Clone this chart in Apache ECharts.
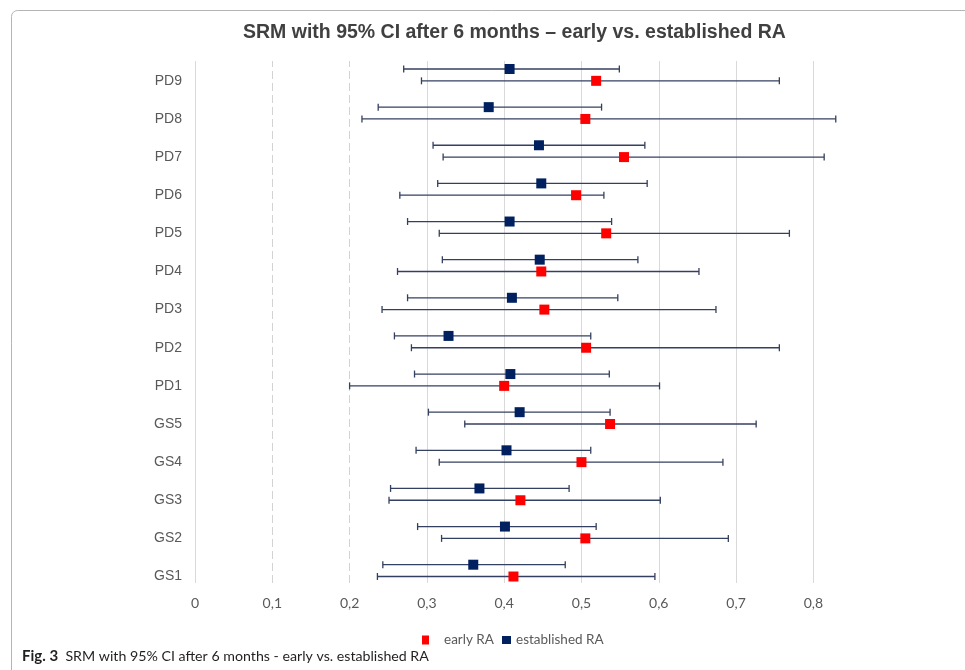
<!DOCTYPE html>
<html>
<head>
<meta charset="utf-8">
<script src="https://cdn.jsdelivr.net/npm/echarts@6/dist/echarts.min.js"></script>
<style>html,body{margin:0;padding:0;background:#fff}#c{width:965px;height:670px}</style>
</head>
<body>
<div id="c"></div>
<script>
// categories bottom to top
var categories = ['GS1','GS2','GS3','GS4','GS5','PD1','PD2','PD3','PD4','PD5','PD6','PD7','PD8','PD9'];
// early RA: SRM and 95% CI
var earlySRM  = [0.412,0.505,0.421,0.500,0.537,0.400,0.506,0.452,0.448,0.532,0.493,0.555,0.505,0.519];
var earlyLow  = [0.236,0.319,0.251,0.316,0.349,0.200,0.280,0.242,0.262,0.316,0.265,0.321,0.216,0.293];
var earlyHigh = [0.595,0.690,0.602,0.683,0.726,0.601,0.756,0.674,0.652,0.769,0.529,0.814,0.829,0.756];
// established RA: SRM and 95% CI
var estSRM  = [0.360,0.401,0.368,0.403,0.420,0.408,0.328,0.410,0.446,0.407,0.448,0.445,0.380,0.407];
var estLow  = [0.243,0.288,0.253,0.286,0.302,0.284,0.258,0.275,0.320,0.275,0.314,0.308,0.237,0.270];
var estHigh = [0.479,0.519,0.484,0.512,0.537,0.536,0.512,0.547,0.573,0.539,0.585,0.582,0.526,0.549];
// x axis ticks
var xTicks = [0,0.1,0.2,0.3,0.4,0.5,0.6,0.7,0.8];
var xTickLabels = ['0','0,1','0,2','0,3','0,4','0,5','0,6','0,7','0,8'];

var EST_SHIFT = 0.31;
var ERR_COLOR = '#34405f';

function buildErr(lo, hi, shift) {
  return categories.map(function (c, i) { return [lo[i], hi[i], i + shift]; });
}
function buildPts(srm, shift) {
  return categories.map(function (c, i) { return [srm[i], i + shift]; });
}
function renderErr(params, api) {
  var p1 = api.coord([api.value(0), api.value(2)]);
  var p2 = api.coord([api.value(1), api.value(2)]);
  var h = 3.5;
  var st = { stroke: ERR_COLOR, lineWidth: 1.3 };
  return {
    type: 'group',
    children: [
      { type: 'line', shape: { x1: p1[0], y1: p1[1], x2: p2[0], y2: p2[1] }, style: st },
      { type: 'line', shape: { x1: p1[0], y1: p1[1] - h, x2: p1[0], y2: p1[1] + h }, style: st },
      { type: 'line', shape: { x1: p2[0], y1: p2[1] - h, x2: p2[0], y2: p2[1] + h }, style: st }
    ]
  };
}

var gridLines = xTicks.map(function (v, i) {
  var dashed = (i === 1 || i === 2);
  return { xAxis: v, lineStyle: { color: dashed ? '#d3d3d3' : '#d9d9d9', width: 1, type: dashed ? [8, 4] : 'solid' } };
});

var chart = echarts.init(document.getElementById('c'), null, { renderer: 'canvas' });
chart.setOption({
  animation: false,
  backgroundColor: '#ffffff',
  title: {
    text: 'SRM with 95% CI after 6 months \u2013 early vs. established RA',
    left: 238,
    top: 18,
    textStyle: { fontFamily: 'Liberation Sans, Arial, sans-serif', fontWeight: 'bold', fontSize: 19.5, color: '#404040' }
  },
  legend: [
    {
      data: ['early RA'], left: 417, top: 628, icon: 'rect', itemWidth: 7, itemHeight: 9, selectedMode: false,
      textStyle: { fontFamily: 'Lato, sans-serif', fontSize: 13.5, color: '#595959', padding: [0, 0, 0, 10] }
    },
    {
      data: ['established RA'], left: 497, top: 628, icon: 'rect', itemWidth: 9, itemHeight: 8, selectedMode: false,
      textStyle: { fontFamily: 'Lato, sans-serif', fontSize: 13.5, color: '#595959' }
    }
  ],
  grid: { left: 195, right: 113, top: 61, bottom: 87, containLabel: false },
  xAxis: {
    type: 'value', min: 0, max: 0.85,
    axisLine: { show: false }, axisTick: { show: false }, splitLine: { show: false },
    axisLabel: {
      customValues: xTicks,
      margin: 13,
      fontFamily: 'Lato, sans-serif', fontSize: 14, color: '#595959',
      formatter: function (v) {
        for (var i = 0; i < xTicks.length; i++) if (Math.abs(xTicks[i] - v) < 1e-6) return xTickLabels[i];
        return '';
      }
    }
  },
  yAxis: {
    type: 'value', min: -0.17, max: 13.52,
    axisLine: { show: false }, axisTick: { show: false }, splitLine: { show: false },
    axisLabel: {
      customValues: categories.map(function (c, i) { return i; }),
      margin: 13,
      fontFamily: 'Liberation Sans, Arial, sans-serif', fontSize: 14, color: '#595959',
      formatter: function (v) { return categories[Math.round(v)] || ''; }
    }
  },
  graphic: [
    { type: 'rect', shape: { x: 11.5, y: 10.5, width: 1000, height: 700, r: 6 }, style: { fill: 'none', stroke: '#b5b5b5', lineWidth: 1 }, silent: true, z: -10 },
    {
      type: 'text', left: 22, top: 649,
      style: {
        text: '{b|Fig. 3}  SRM with 95% CI after 6 months - early vs. established RA',
        fontFamily: 'Lato, sans-serif', fontSize: 14.2, fill: '#231f20',
        rich: { b: { fontFamily: 'Lato, sans-serif', fontWeight: 'bold', fontSize: 15, fill: '#231f20' } }
      }
    }
  ],
  series: [
    {
      name: 'grid', type: 'line', data: [], z: 0, silent: true,
      markLine: { z: 0, silent: true, symbol: ['none', 'none'], label: { show: false }, animation: false, data: gridLines }
    },
    { name: 'early err', type: 'custom', z: 1, silent: true, renderItem: renderErr, data: buildErr(earlyLow, earlyHigh, 0), encode: { x: [0, 1], y: 2 } },
    { name: 'est err', type: 'custom', z: 1, silent: true, renderItem: renderErr, data: buildErr(estLow, estHigh, EST_SHIFT), encode: { x: [0, 1], y: 2 } },
    { name: 'early RA', type: 'scatter', z: 3, symbol: 'rect', symbolSize: 10, itemStyle: { color: '#ff0000', opacity: 1 }, data: buildPts(earlySRM, 0) },
    { name: 'established RA', type: 'scatter', z: 3, symbol: 'rect', symbolSize: 10, itemStyle: { color: '#002060', opacity: 1 }, data: buildPts(estSRM, EST_SHIFT) }
  ]
});
</script>
</body>
</html>
